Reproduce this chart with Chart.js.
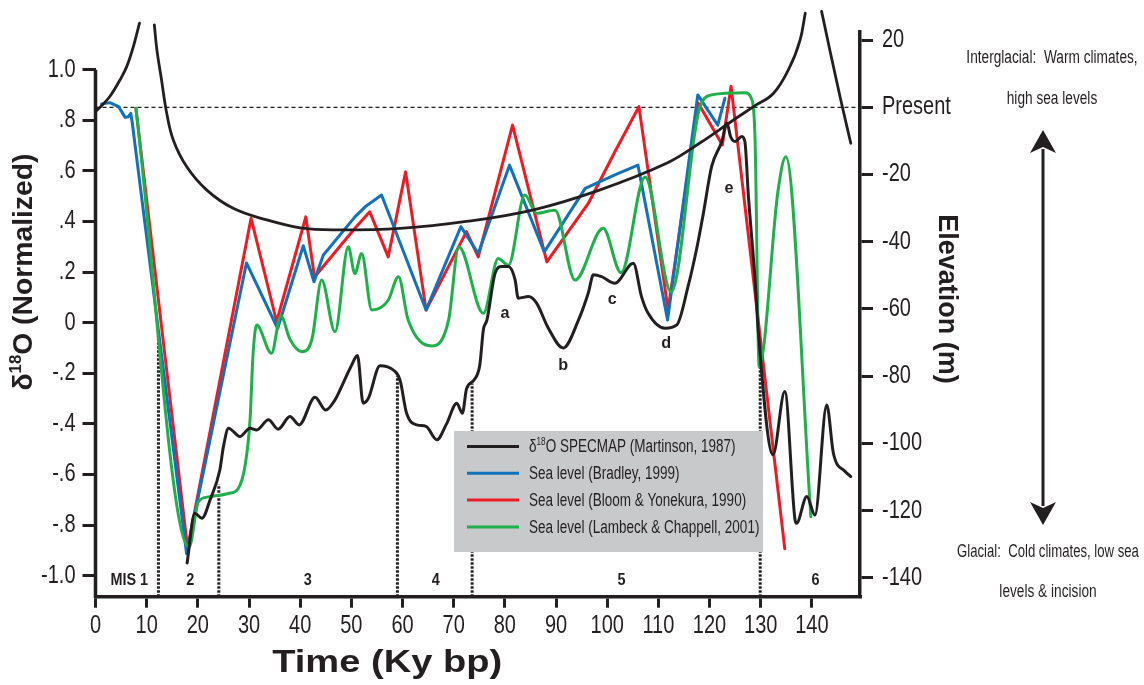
<!DOCTYPE html>
<html>
<head>
<meta charset="utf-8">
<script src="https://cdn.jsdelivr.net/npm/chart.js@4.4.1/dist/chart.umd.min.js"></script>
<style>
  html, body { margin: 0; padding: 0; background: #fff; }
  canvas { display: block; }
</style>
</head>
<body>
<canvas id="chart" width="1144" height="685"></canvas>
<script>
// ---- data (time in ky bp) ----
// sea level curves, elevation in m (right axis)
const blueT = [1.2, 2.8, 4.5, 5.8, 6.4, 6.9, 7.2, 17.8, 29.5, 35.6, 40.6, 42.7, 44.5, 50.7, 52.7, 55.9, 64.6, 71.4, 74.8, 80.9, 87.7, 95.7, 101.5, 106.0, 111.8, 117.7, 121.6, 123.0];
const blueElev = [1.0, 1.4, 0.2, -3.0, -2.8, -1.8, -4.8, -132.8, -46.3, -65.8, -41.2, -51.9, -44.0, -32.6, -29.6, -26.1, -60.3, -35.5, -43.5, -17.2, -43.0, -24.1, -20.1, -17.2, -63.3, 3.7, -5.3, 2.7];

const redT = [7.9, 18.0, 30.4, 35.4, 41.1, 42.8, 50.7, 53.6, 57.2, 60.6, 64.6, 72.5, 74.8, 81.5, 88.2, 96.3, 101.5, 106.2, 111.9, 117.8, 122.5, 124.2, 134.7];
const redElev = [-0.3, -131.2, -33.0, -63.8, -32.6, -50.5, -36.0, -31.1, -44.5, -19.2, -60.3, -37.0, -44.5, -5.3, -46.0, -28.6, -13.2, 0.2, -60.3, 1.2, -11.2, 6.3, -131.3];

const greenT = [7.9, 18.3, 20.1, 22.1, 26.0, 27.9, 29.3, 30.2, 30.8, 31.5, 34.4, 36.2, 38.0, 40.3, 42.3, 44.2, 46.8, 49.4, 50.7, 52.0, 54.0, 57.2, 59.2, 61.1, 65.7, 69.0, 71.0, 75.8, 78.7, 80.7, 83.9, 86.2, 89.8, 93.7, 99.2, 102.7, 107.4, 112.5, 117.8, 120.4, 126.9, 128.3, 128.9, 129.7, 133.4, 134.9, 139.8];
const greenElev = [-0.3, -130.8, -117.4, -115.9, -114.9, -113.4, -106.0, -93.0, -73.2, -64.8, -73.2, -62.0, -69.0, -72.7, -69.0, -51.4, -66.8, -41.5, -49.5, -43.5, -60.3, -57.4, -50.4, -63.3, -71.0, -63.3, -41.5, -61.3, -45.0, -47.0, -26.1, -31.5, -30.6, -51.4, -36.0, -49.2, -20.7, -54.9, -1.8, 3.7, 4.3, 2.2, -9.8, -77.2, -24.6, -14.7, -121.8];

// SPECMAP d18O, normalized (left axis)
const specT = [17.9, 19.4, 20.8, 22.4, 24.3, 25.0, 26.0, 28.2, 30.2, 31.5, 33.8, 35.7, 38.0, 39.8, 42.9, 45.0, 46.8, 47.8, 50.0, 51.2, 52.3, 53.3, 55.6, 58.2, 59.5, 60.8, 62.8, 64.6, 66.7, 68.6, 70.6, 71.7, 72.5, 74.0, 75.1, 75.8, 76.5, 78.1, 79.4, 80.7, 82.0, 82.6, 84.6, 86.2, 88.5, 91.4, 94.4, 96.3, 97.3, 98.9, 101.5, 105.1, 106.7, 108.0, 111.3, 113.6, 115.8, 117.5, 118.8, 120.4, 122.4, 123.4, 124.1, 125.0, 126.3, 126.9, 127.6, 128.9, 129.5, 132.4, 134.7, 136.7, 137.0, 139.0, 140.6, 142.9, 144.2, 146.5, 147.6];
const specVal = [-0.95, -0.753, -0.773, -0.70, -0.582, -0.49, -0.417, -0.45, -0.417, -0.424, -0.384, -0.421, -0.371, -0.404, -0.295, -0.345, -0.305, -0.265, -0.17, -0.13, -0.318, -0.30, -0.17, -0.187, -0.226, -0.358, -0.404, -0.41, -0.463, -0.40, -0.318, -0.358, -0.262, -0.226, -0.167, -0.028, 0.011, 0.196, 0.222, 0.222, 0.169, 0.097, 0.103, 0.077, -0.022, -0.10, 0.011, 0.117, 0.189, 0.182, 0.156, 0.235, 0.103, 0.037, -0.022, -0.009, 0.143, 0.294, 0.433, 0.617, 0.716, 0.789, 0.736, 0.716, 0.736, 0.716, 0.498, 0.169, -0.028, -0.522, -0.272, -0.779, -0.793, -0.687, -0.76, -0.325, -0.516, -0.588, -0.608];

// hand-drawn envelope curve (normalized), three branches
const envAT = [0, 2.8, 4.8, 6.1, 7.4, 8.6];
const envAVal = [0.834, 0.894, 0.96, 1.012, 1.091, 1.184];
const envBT = [11.5, 12.0, 12.9, 13.9, 15.2, 17.8, 21.7, 26.9, 33.5, 40.0, 46.5, 59.5, 72.5, 85.6, 98.6, 111.6, 118.1, 124.6, 128.6, 132.5, 135.7, 137.7, 138.7];
const envBVal = [1.177, 1.078, 0.96, 0.83, 0.722, 0.617, 0.525, 0.452, 0.406, 0.375, 0.367, 0.373, 0.40, 0.446, 0.525, 0.63, 0.71, 0.80, 0.854, 0.907, 1.012, 1.118, 1.223];
const envCT = [141.9, 143.5, 145.5, 147.6];
const envCVal = [1.23, 1.078, 0.893, 0.709];

// marine isotope stage boundaries
const misBounds = [12.3, 24.1, 59.0, 73.6, 129.9];
const misTops = [-0.04, -0.64, -0.21, -0.24, -0.06];
const misLabels = ['MIS 1', '2', '3', '4', '5', '6'];
const misLabelT = [6.6, 18.5, 41.5, 66.5, 102.8, 140.7];

// letter annotations on the SPECMAP curve
const letters = ['a', 'b', 'c', 'd', 'e'];
const letterT = [80.0, 91.4, 101.0, 111.5, 123.8];
const letterVal = [0.038, -0.17, 0.093, -0.08, 0.53];

// ticks
const xTicks = [0, 10, 20, 30, 40, 50, 60, 70, 80, 90, 100, 110, 120, 130, 140];
const leftTicks = [-1, -0.8, -0.6, -0.4, -0.2, 0, 0.2, 0.4, 0.6, 0.8, 1];
const rightTicks = [-140, -120, -100, -80, -60, -40, -20, 0, 20];

// axis ranges
const X_MAX = 149.4;
const Y_MIN = -1.083, Y_MAX = 1.15;
const E_MIN = -145.6, E_MAX = 22.5;

const INK = '#231f20';
const SANS = "'Liberation Sans', Arial, sans-serif";

function pts(xs, ys) {
  return xs.map((v, i) => ({x: v, y: ys[i]}));
}

function leftLabel(v) {
  if (Math.abs(v) < 1e-9) return '0';
  if (Math.abs(Math.abs(v) - 1) < 1e-9) return v.toFixed(1);
  return v.toFixed(1).replace('0.', '.');
}
function rightLabel(v) {
  return v === 0 ? 'Present' : String(v);
}

const misData = [];
misBounds.forEach((b, i) => {
  misData.push({x: b, y: Y_MIN}, {x: b, y: misTops[i]}, {x: b, y: null});
});

// condensed-looking text (the original uses a condensed face)
function condText(ctx, text, x, y, size, align, sx, weight) {
  ctx.save();
  ctx.font = (weight || 'normal') + ' ' + size + 'px ' + SANS;
  ctx.textBaseline = 'middle';
  ctx.textAlign = align;
  ctx.translate(x, y);
  ctx.scale(sx, 1);
  ctx.fillText(text, 0, 0);
  ctx.restore();
}

// text with a superscript "18" after the delta
function richWidth(ctx, text, size, weight) {
  const parts = text.split('18');
  ctx.font = weight + ' ' + size + 'px ' + SANS;
  let w = ctx.measureText(parts[0]).width;
  if (parts.length > 1) {
    ctx.font = weight + ' ' + Math.round(size * 0.6) + 'px ' + SANS;
    w += ctx.measureText('18').width;
    ctx.font = weight + ' ' + size + 'px ' + SANS;
    w += ctx.measureText(parts.slice(1).join('18')).width;
  }
  return w;
}
function drawRich(ctx, text, x, y, size, weight) {
  const parts = text.split('18');
  ctx.textAlign = 'left';
  ctx.font = weight + ' ' + size + 'px ' + SANS;
  ctx.fillText(parts[0], x, y);
  x += ctx.measureText(parts[0]).width;
  if (parts.length > 1) {
    ctx.font = weight + ' ' + Math.round(size * 0.6) + 'px ' + SANS;
    ctx.fillText('18', x, y - size * 0.32);
    x += ctx.measureText('18').width;
    ctx.font = weight + ' ' + size + 'px ' + SANS;
    ctx.fillText(parts.slice(1).join('18'), x, y);
  }
}

const overlay = {
  id: 'overlay',
  beforeDraw(chart) {
    const ctx = chart.ctx;
    ctx.save();
    ctx.fillStyle = '#fff';
    ctx.fillRect(0, 0, chart.width, chart.height);
    ctx.restore();
  },
  afterDatasetsDraw(chart) {
    const {ctx, scales: {x, y}} = chart;
    ctx.save();
    // left axis line starts at 1.0
    ctx.strokeStyle = INK;
    ctx.lineWidth = 3.5;
    ctx.beginPath();
    ctx.moveTo(x.left, y.getPixelForValue(1));
    ctx.lineTo(x.left, y.bottom + 1.5);
    ctx.stroke();

    // legend box
    const L = {left: 454, top: 431, width: 309, height: 121};
    ctx.fillStyle = '#c8c9cb';
    ctx.fillRect(L.left, L.top, L.width, L.height);
    const items = chart.data.datasets.filter(d => d.inLegend);
    items.forEach((d, i) => {
      const yy = L.top + 15.5 + i * 26.8;
      ctx.strokeStyle = d.borderColor;
      ctx.lineWidth = 3;
      ctx.beginPath();
      ctx.moveTo(L.left + 13, yy);
      ctx.lineTo(L.left + 65, yy);
      ctx.stroke();
      ctx.fillStyle = INK;
      ctx.textBaseline = 'middle';
      ctx.save();
      ctx.translate(L.left + 75, yy + 1);
      ctx.scale(0.75, 1);
      drawRich(ctx, d.label, 0, 0, 18, 'normal');
      ctx.restore();
    });

    // MIS labels
    ctx.fillStyle = INK;
    misLabels.forEach((s, i) => {
      condText(ctx, s, x.getPixelForValue(misLabelT[i]), y.getPixelForValue(-1.02), 16, 'center', 0.9, 'bold');
    });
    // letters
    letters.forEach((s, i) => {
      condText(ctx, s, x.getPixelForValue(letterT[i]), y.getPixelForValue(letterVal[i]), 17, 'center', 0.95, 'bold');
    });
    ctx.restore();
  },
  afterDraw(chart) {
    const {ctx, scales: {x, y, y2}} = chart;
    ctx.save();
    ctx.fillStyle = INK;
    ctx.textBaseline = 'middle';

    // tick labels, from the scales' own ticks
    x.ticks.forEach(t => condText(ctx, String(t.value), x.getPixelForValue(t.value), x.top + 29, 25, 'center', 0.8));
    y.ticks.forEach(t => condText(ctx, leftLabel(t.value), x.left - 20, y.getPixelForValue(t.value), 25, 'right', 0.8));
    y2.ticks.forEach(t => condText(ctx, rightLabel(t.value), x.right + 22, y2.getPixelForValue(t.value), 25, 'left', 0.8));

    // left title
    const w = richWidth(ctx, 'δ18O (Normalized)', 27, 'bold');
    ctx.save();
    ctx.translate(25, y.getPixelForValue(0.2));
    ctx.rotate(-Math.PI / 2);
    ctx.scale(237 / w, 1);
    drawRich(ctx, 'δ18O (Normalized)', -w / 2, 0, 27, 'bold');
    ctx.restore();

    // right title
    ctx.save();
    ctx.translate(946.5, y2.getPixelForValue(-57));
    ctx.rotate(Math.PI / 2);
    ctx.font = 'bold 27px ' + SANS;
    ctx.textAlign = 'center';
    ctx.fillText('Elevation (m)', 0, 0);
    ctx.restore();

    // x title
    ctx.font = 'bold 31px ' + SANS;
    const tw = ctx.measureText('Time (Ky bp)').width;
    condText(ctx, 'Time (Ky bp)', x.getPixelForValue(57), 663, 31, 'center', 230 / tw, 'bold');

    // right notes
    condText(ctx, 'Interglacial:  Warm climates,', 1052, 58, 18, 'center', 0.76);
    condText(ctx, 'high sea levels', 1052, 99, 18, 'center', 0.76);
    condText(ctx, 'Glacial:  Cold climates, low sea', 1048, 552, 18, 'center', 0.73);
    condText(ctx, 'levels & incision', 1048, 592, 18, 'center', 0.76);

    // double arrow
    const ax = 1043, top = 130, bot = 525, hl = 23, hw = 13;
    ctx.strokeStyle = INK;
    ctx.lineWidth = 3;
    ctx.beginPath();
    ctx.moveTo(ax, top + hl - 4);
    ctx.lineTo(ax, bot - hl + 4);
    ctx.stroke();
    ctx.beginPath();
    ctx.moveTo(ax, top);
    ctx.lineTo(ax - hw, top + hl);
    ctx.lineTo(ax, top + hl - 6);
    ctx.lineTo(ax + hw, top + hl);
    ctx.closePath();
    ctx.fill();
    ctx.beginPath();
    ctx.moveTo(ax, bot);
    ctx.lineTo(ax - hw, bot - hl);
    ctx.lineTo(ax, bot - hl + 6);
    ctx.lineTo(ax + hw, bot - hl);
    ctx.closePath();
    ctx.fill();
    ctx.restore();
  }
};

const lineBase = {pointRadius: 0, fill: false, spanGaps: false, borderCapStyle: 'round', borderJoinStyle: 'round'};

new Chart(document.getElementById('chart'), {
  type: 'line',
  data: {
    datasets: [
      Object.assign({}, lineBase, {
        label: 'δ18O SPECMAP (Martinson, 1987)', inLegend: true,
        data: pts(specT, specVal), yAxisID: 'y',
        borderColor: INK, borderWidth: 3, cubicInterpolationMode: 'monotone', order: 3
      }),
      Object.assign({}, lineBase, {
        label: 'Sea level (Bradley, 1999)', inLegend: true,
        data: pts(blueT, blueElev), yAxisID: 'y2',
        borderColor: '#1172b9', borderWidth: 3, tension: 0, order: 5
      }),
      Object.assign({}, lineBase, {
        label: 'Sea level (Bloom & Yonekura, 1990)', inLegend: true,
        data: pts(redT, redElev), yAxisID: 'y2',
        borderColor: '#ed1c24', borderWidth: 3, tension: 0, order: 6
      }),
      Object.assign({}, lineBase, {
        label: 'Sea level (Lambeck & Chappell, 2001)', inLegend: true,
        data: pts(greenT, greenElev), yAxisID: 'y2',
        borderColor: '#1fb04b', borderWidth: 3, cubicInterpolationMode: 'monotone', order: 4
      }),
      Object.assign({}, lineBase, {
        label: 'envelope A', data: pts(envAT, envAVal), yAxisID: 'y',
        borderColor: INK, borderWidth: 2.8, cubicInterpolationMode: 'monotone', clip: false, order: 2
      }),
      Object.assign({}, lineBase, {
        label: 'envelope B', data: pts(envBT, envBVal), yAxisID: 'y',
        borderColor: INK, borderWidth: 2.8, tension: 0.4, clip: false, order: 2
      }),
      Object.assign({}, lineBase, {
        label: 'envelope C', data: pts(envCT, envCVal), yAxisID: 'y',
        borderColor: INK, borderWidth: 2.8, cubicInterpolationMode: 'monotone', clip: false, order: 2
      }),
      Object.assign({}, lineBase, {
        label: 'Present', data: [{x: 0, y: 0}, {x: X_MAX, y: 0}], yAxisID: 'y2',
        borderColor: INK, borderWidth: 1.3, borderDash: [4, 3], borderCapStyle: 'butt', order: 8
      }),
      Object.assign({}, lineBase, {
        label: 'MIS boundaries', data: misData, yAxisID: 'y',
        borderColor: INK, borderWidth: 3, borderDash: [2.5, 1.5], borderCapStyle: 'butt', order: 7
      })
    ]
  },
  options: {
    responsive: false,
    animation: false,
    events: [],
    layout: {padding: {top: 31.7, right: 184, left: 0, bottom: 0}},
    plugins: {legend: {display: false}, tooltip: {enabled: false}},
    scales: {
      x: {
        type: 'linear', min: 0, max: X_MAX,
        afterBuildTicks: s => { s.ticks = xTicks.map(v => ({value: v})); },
        afterFit: s => { s.height = 88.3; },
        grid: {drawOnChartArea: false, drawTicks: true, tickLength: 11, color: INK, lineWidth: 3},
        border: {display: true, color: INK, width: 3.5},
        ticks: {display: false}
      },
      y: {
        type: 'linear', position: 'left', min: Y_MIN, max: Y_MAX,
        afterBuildTicks: s => { s.ticks = leftTicks.map(v => ({value: v})); },
        afterFit: s => { s.width = 95.5; },
        grid: {drawOnChartArea: false, drawTicks: true, tickLength: 13, color: INK, lineWidth: 3},
        border: {display: false},
        ticks: {display: false}
      },
      y2: {
        type: 'linear', position: 'right', min: E_MIN, max: E_MAX,
        afterBuildTicks: s => { s.ticks = rightTicks.map(v => ({value: v})); },
        afterFit: s => { s.width = 100; },
        grid: {drawOnChartArea: false, drawTicks: true, tickLength: 13, color: INK, lineWidth: 3},
        border: {display: true, color: INK, width: 3.5},
        ticks: {display: false}
      }
    }
  },
  plugins: [overlay]
});
</script>
</body>
</html>
